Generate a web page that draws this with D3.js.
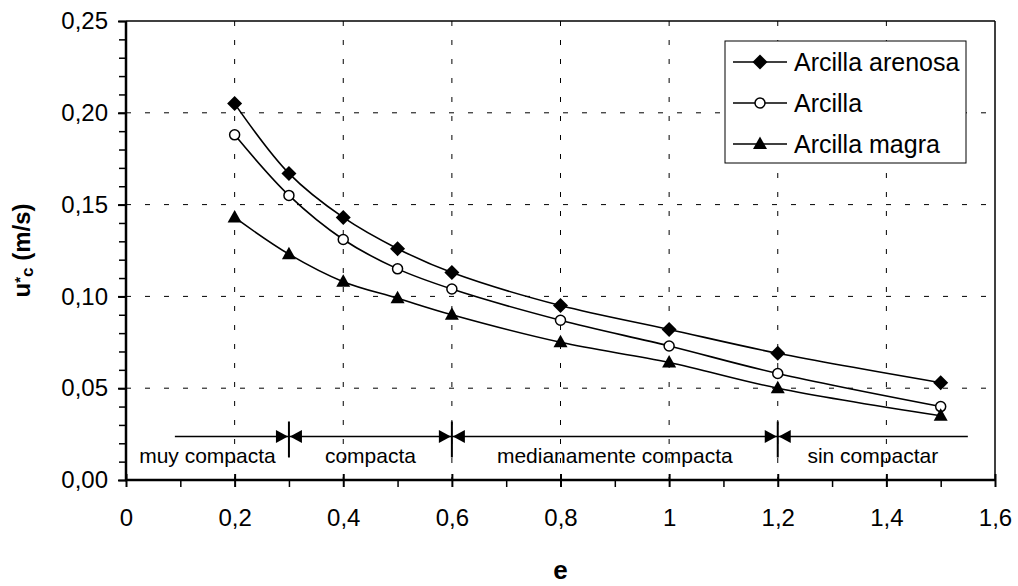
<!DOCTYPE html>
<html>
<head>
<meta charset="utf-8">
<script src="https://cdn.jsdelivr.net/npm/d3@7"></script>
<style>
    body { margin: 0; background: #fff; }
    text { font-family: "Liberation Sans", Arial, sans-serif; fill: #000; }
</style>
</head>
<body>
<div id="chart"></div>
<script>
// data
const eValues = [0.2, 0.3, 0.4, 0.5, 0.6, 0.8, 1.0, 1.2, 1.5];
const arcillaArenosa = [0.205, 0.167, 0.143, 0.126, 0.113, 0.095, 0.082, 0.069, 0.053];
const arcilla = [0.188, 0.155, 0.131, 0.115, 0.104, 0.087, 0.073, 0.058, 0.040];
const arcillaMagra = [0.143, 0.123, 0.108, 0.099, 0.090, 0.075, 0.064, 0.050, 0.035];
const seriesNames = ["Arcilla arenosa", "Arcilla", "Arcilla magra"];
const seriesMarkers = ["diamond", "circle", "triangle"];

const xTicks = [0, 0.2, 0.4, 0.6, 0.8, 1.0, 1.2, 1.4, 1.6];
const yTicks = [0, 0.05, 0.10, 0.15, 0.20, 0.25];

// compaction zones
const zoneBounds = [0.3, 0.6, 1.2];
const zoneRange = [0.09, 1.55];
const zoneLevel = 0.0237;
const zoneLabels = ["muy compacta", "compacta", "medianamente compacta", "sin compactar"];
const zoneLabelPos = [0.15, 0.45, 0.9, 1.375];

const margin = { top: 21, right: 23, bottom: 106, left: 126 };
const W = 1018, H = 586;
const width = W - margin.left - margin.right;
const height = H - margin.top - margin.bottom;

const svg = d3.select("#chart").append("svg")
    .attr("width", W)
    .attr("height", H);

const g = svg.append("g")
    .attr("transform", `translate(${margin.left},${margin.top})`);

const x = d3.scaleLinear().domain([0, 1.6]).range([0, width]);
const y = d3.scaleLinear().domain([0, 0.25]).range([height, 0]);

const comma = s => s.replace(".", ",");

// grid
g.append("g").selectAll("line")
    .data(xTicks.slice(1, -1))
    .join("line")
    .attr("x1", d => x(d)).attr("x2", d => x(d))
    .attr("y1", 0).attr("y2", height)
    .attr("stroke", "#000").attr("stroke-width", 1)
    .attr("stroke-dasharray", "5,14");

g.append("g").selectAll("line")
    .data(yTicks.slice(1, -1))
    .join("line")
    .attr("x1", 0).attr("x2", width)
    .attr("y1", d => y(d)).attr("y2", d => y(d))
    .attr("stroke", "#000").attr("stroke-width", 1)
    .attr("stroke-dasharray", "5,14");

// frame (top / right)
g.append("line").attr("x1", 0).attr("x2", width).attr("y1", 0).attr("y2", 0)
    .attr("stroke", "#000").attr("stroke-width", 1.5);
g.append("line").attr("x1", width).attr("x2", width).attr("y1", 0).attr("y2", height)
    .attr("stroke", "#000").attr("stroke-width", 1.5);

// y axis
const yAxis = g.append("g")
    .call(d3.axisLeft(y).tickValues(yTicks).tickSize(8).tickPadding(10)
        .tickFormat(d => comma(d3.format(".2f")(d))));
yAxis.selectAll(".tick text").attr("font-size", 24).attr("font-family", "Liberation Sans, Arial, sans-serif");
yAxis.select(".domain").remove();
yAxis.selectAll(".tick line").attr("stroke-width", 2);

g.append("g")
    .call(d3.axisLeft(y).tickValues(d3.range(0, 0.2501, 0.01)).tickSize(7).tickFormat(""))
    .call(a => a.select(".domain").remove())
    .selectAll(".tick line").attr("stroke-width", 1.5);

g.append("line").attr("x1", 0).attr("x2", 0).attr("y1", 0).attr("y2", height + 1)
    .attr("stroke", "#000").attr("stroke-width", 2.5);

// x axis
const xAxis = g.append("g")
    .attr("transform", `translate(0,${height})`)
    .call(d3.axisBottom(x).tickValues(xTicks).tickSize(7).tickPadding(22)
        .tickFormat(d => comma(d3.format("~g")(d))));
xAxis.selectAll(".tick text").attr("font-size", 24).attr("font-family", "Liberation Sans, Arial, sans-serif");
xAxis.select(".domain").remove();
xAxis.selectAll(".tick line").attr("stroke-width", 2).attr("y1", -6);

g.append("g")
    .attr("transform", `translate(0,${height})`)
    .call(d3.axisBottom(x).tickValues(d3.range(0.1, 1.6, 0.2)).tickSize(7).tickFormat(""))
    .call(a => a.select(".domain").remove())
    .selectAll(".tick line").attr("stroke-width", 1.5);

g.append("line").attr("x1", -1).attr("x2", width).attr("y1", height).attr("y2", height)
    .attr("stroke", "#000").attr("stroke-width", 2.5);

// zones annotation
const zy = y(zoneLevel);
const zones = g.append("g");
zones.append("line")
    .attr("x1", x(zoneRange[0])).attr("x2", x(zoneRange[1]))
    .attr("y1", zy).attr("y2", zy)
    .attr("stroke", "#000").attr("stroke-width", 1.5);

zoneBounds.forEach(b => {
    const bx = x(b);
    zones.append("line")
        .attr("x1", bx).attr("x2", bx).attr("y1", zy - 15).attr("y2", zy + 21)
        .attr("stroke", "#000").attr("stroke-width", 2);
    zones.append("path")
        .attr("d", `M${bx - 1},${zy} L${bx - 13},${zy - 6.5} L${bx - 13},${zy + 6.5} Z`);
    zones.append("path")
        .attr("d", `M${bx + 1},${zy} L${bx + 13},${zy - 6.5} L${bx + 13},${zy + 6.5} Z`);
});

zones.selectAll("text")
    .data(zoneLabels)
    .join("text")
    .attr("x", (d, i) => x(zoneLabelPos[i]))
    .attr("y", zy + 27)
    .attr("text-anchor", "middle")
    .attr("font-size", 21)
    .text(d => d);

// series
const allSeries = [arcillaArenosa, arcilla, arcillaMagra];
const line = d3.line()
    .x((d, i) => x(eValues[i]))
    .y(d => y(d))
    .curve(d3.curveCatmullRom);

function drawMarker(sel, type) {
    if (type === "diamond") {
        sel.append("path").attr("d", "M0,-7.5 L7.5,0 L0,7.5 L-7.5,0 Z").attr("fill", "#000");
    } else if (type === "circle") {
        sel.append("circle").attr("r", 5).attr("fill", "#fff")
            .attr("stroke", "#000").attr("stroke-width", 1.5);
    } else {
        sel.append("path").attr("d", "M0,-7.5 L7,5 L-7,5 Z").attr("fill", "#000");
    }
}

allSeries.forEach((vals, s) => {
    g.append("path")
        .datum(vals)
        .attr("d", line)
        .attr("fill", "none")
        .attr("stroke", "#000")
        .attr("stroke-width", 1.6);

    g.append("g").selectAll("g")
        .data(vals)
        .join("g")
        .attr("transform", (d, i) => `translate(${x(eValues[i])},${y(d)})`)
        .each(function () { drawMarker(d3.select(this), seriesMarkers[s]); });
});

// legend
const legend = svg.append("g").attr("transform", "translate(725,41)");
legend.append("rect")
    .attr("width", 241).attr("height", 122)
    .attr("fill", "#fff").attr("stroke", "#000").attr("stroke-width", 1);

seriesNames.forEach((name, i) => {
    const ly = 21 + i * 41;
    const row = legend.append("g").attr("transform", `translate(0,${ly})`);
    row.append("line").attr("x1", 8).attr("x2", 62).attr("y1", 0).attr("y2", 0)
        .attr("stroke", "#000").attr("stroke-width", 1.6);
    drawMarker(row.append("g").attr("transform", "translate(35,0)"), seriesMarkers[i]);
    row.append("text")
        .attr("x", 69).attr("y", 0).attr("dy", "0.35em")
        .attr("font-size", 25)
        .text(name);
});

// axis titles
svg.append("text")
    .attr("transform", `translate(30,${margin.top + height / 2}) rotate(-90)`)
    .attr("text-anchor", "middle")
    .attr("font-size", 24)
    .attr("font-weight", "bold")
    .call(t => {
        t.append("tspan").text("u");
        t.append("tspan").attr("font-size", 15).attr("dy", -5).text("*");
        t.append("tspan").attr("font-size", 17).attr("dy", 8).text("c");
        t.append("tspan").attr("dy", -3).text(" (m/s)");
    });

svg.append("text")
    .attr("x", margin.left + width / 2)
    .attr("y", 579)
    .attr("text-anchor", "middle")
    .attr("font-size", 26)
    .attr("font-weight", "bold")
    .text("e");
</script>
</body>
</html>
